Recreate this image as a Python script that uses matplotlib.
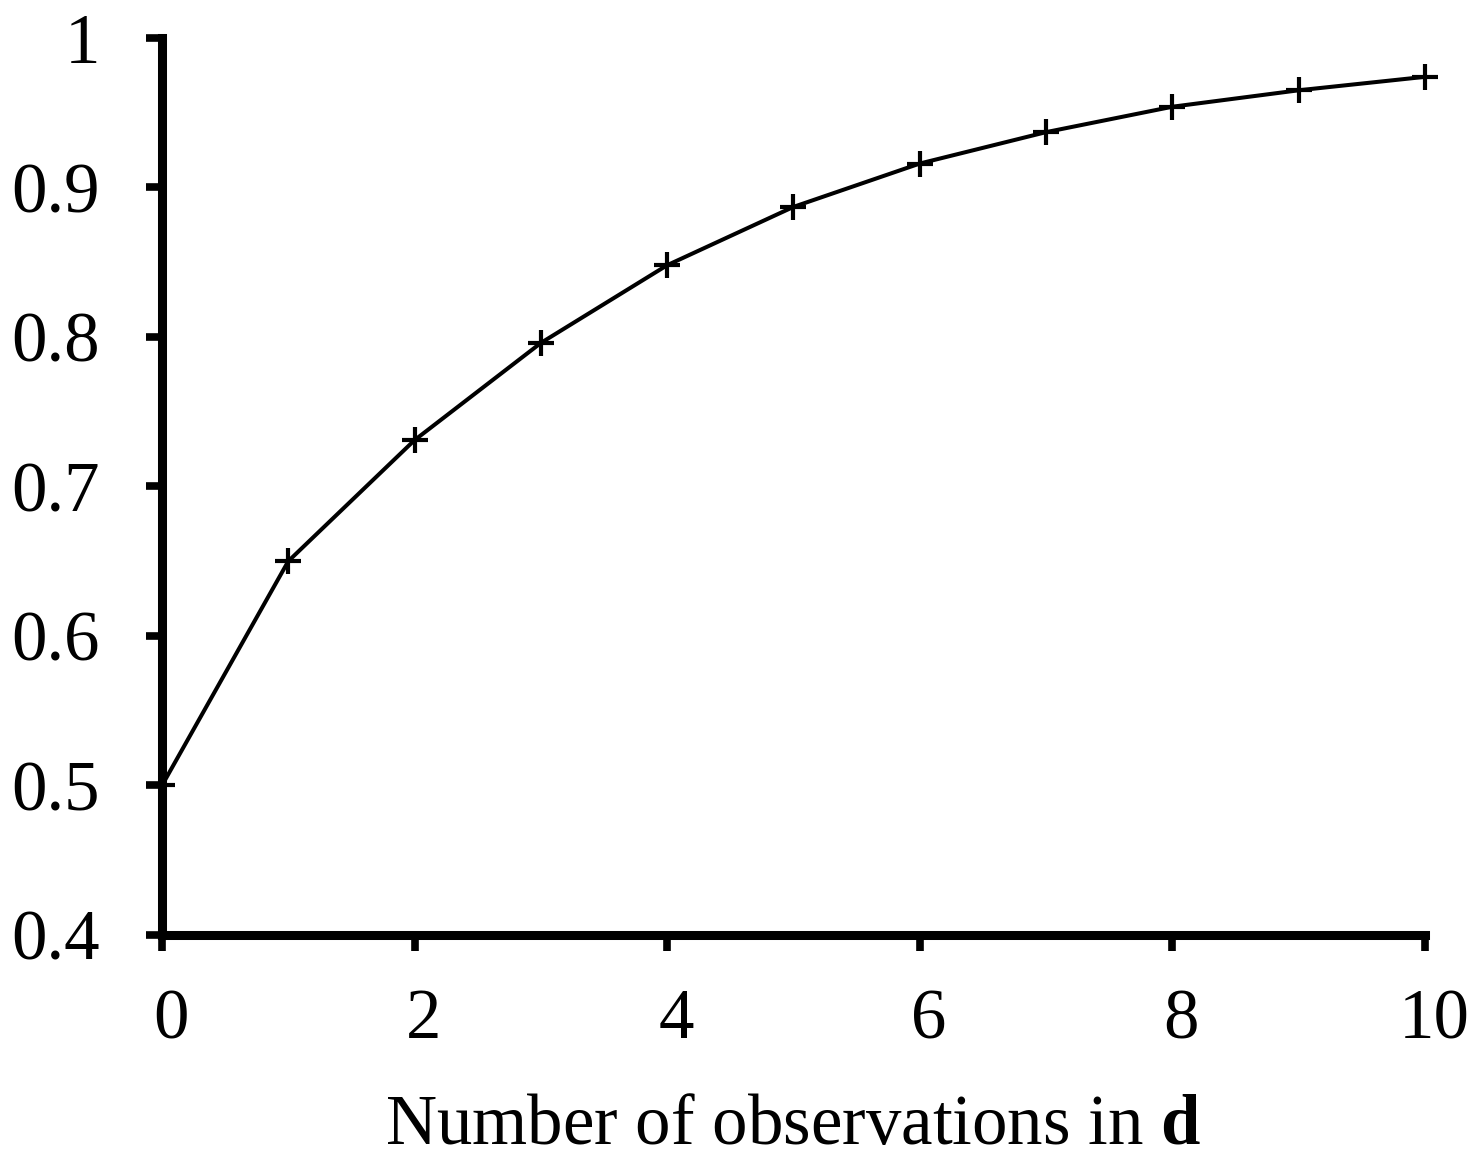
import numpy as np
import matplotlib.pyplot as plt
import matplotlib.transforms as mtransforms

plt.rcParams['font.family'] = ['Liberation Serif', 'DejaVu Serif']
plt.rcParams['mathtext.fontset'] = 'custom'
plt.rcParams['mathtext.rm'] = 'Liberation Serif'
plt.rcParams['mathtext.bf'] = 'Liberation Serif:bold'

# number of observations and the probability
n_obs = [0, 1, 2, 3, 4, 5, 6, 7, 8, 9, 10]
prob = [0.500, 0.650, 0.731, 0.796, 0.848, 0.887, 0.916, 0.937, 0.954, 0.965, 0.974]

x_ticks = [0, 2, 4, 6, 8, 10]
y_ticks = [0.4, 0.5, 0.6, 0.7, 0.8, 0.9, 1.0]
y_labels = ['0.4', '0.5', '0.6', '0.7', '0.8', '0.9', '1']

fig = plt.figure(figsize=(14.78, 11.61), dpi=100)
ax = fig.add_axes([0.1096, 0.1947, 0.9641 - 0.1096, 0.9673 - 0.1947])

ax.plot(n_obs, prob, color='black', linewidth=2.9, marker='+',
        markersize=19, markeredgewidth=3, clip_on=False, zorder=3)

ax.set_xlim(0, 10)
ax.set_ylim(0.4, 1.0)

for side in ['top', 'right']:
    ax.spines[side].set_visible(False)
for side in ['left', 'bottom']:
    ax.spines[side].set_linewidth(6.5)
    ax.spines[side].set_capstyle('projecting')

ax.set_xticks(x_ticks)
ax.set_xticklabels([str(v) for v in x_ticks])
ax.set_yticks(y_ticks)
ax.set_yticklabels(y_labels)
ax.tick_params(axis='both', direction='out', length=11.5, width=5.5,
               labelsize=51, color='black')
ax.tick_params(axis='x', pad=27)
ax.tick_params(axis='y', pad=33)

# x tick labels sit a little to the right of their ticks in the original
shift = mtransforms.ScaledTranslation(9 / 100, 0, fig.dpi_scale_trans)
for lbl in ax.get_xticklabels():
    lbl.set_transform(lbl.get_transform() + shift)

ax.set_xlabel(r'Number of observations in $\mathbf{d}$', fontsize=51, labelpad=29)

fig.savefig('out.png', dpi=100)
